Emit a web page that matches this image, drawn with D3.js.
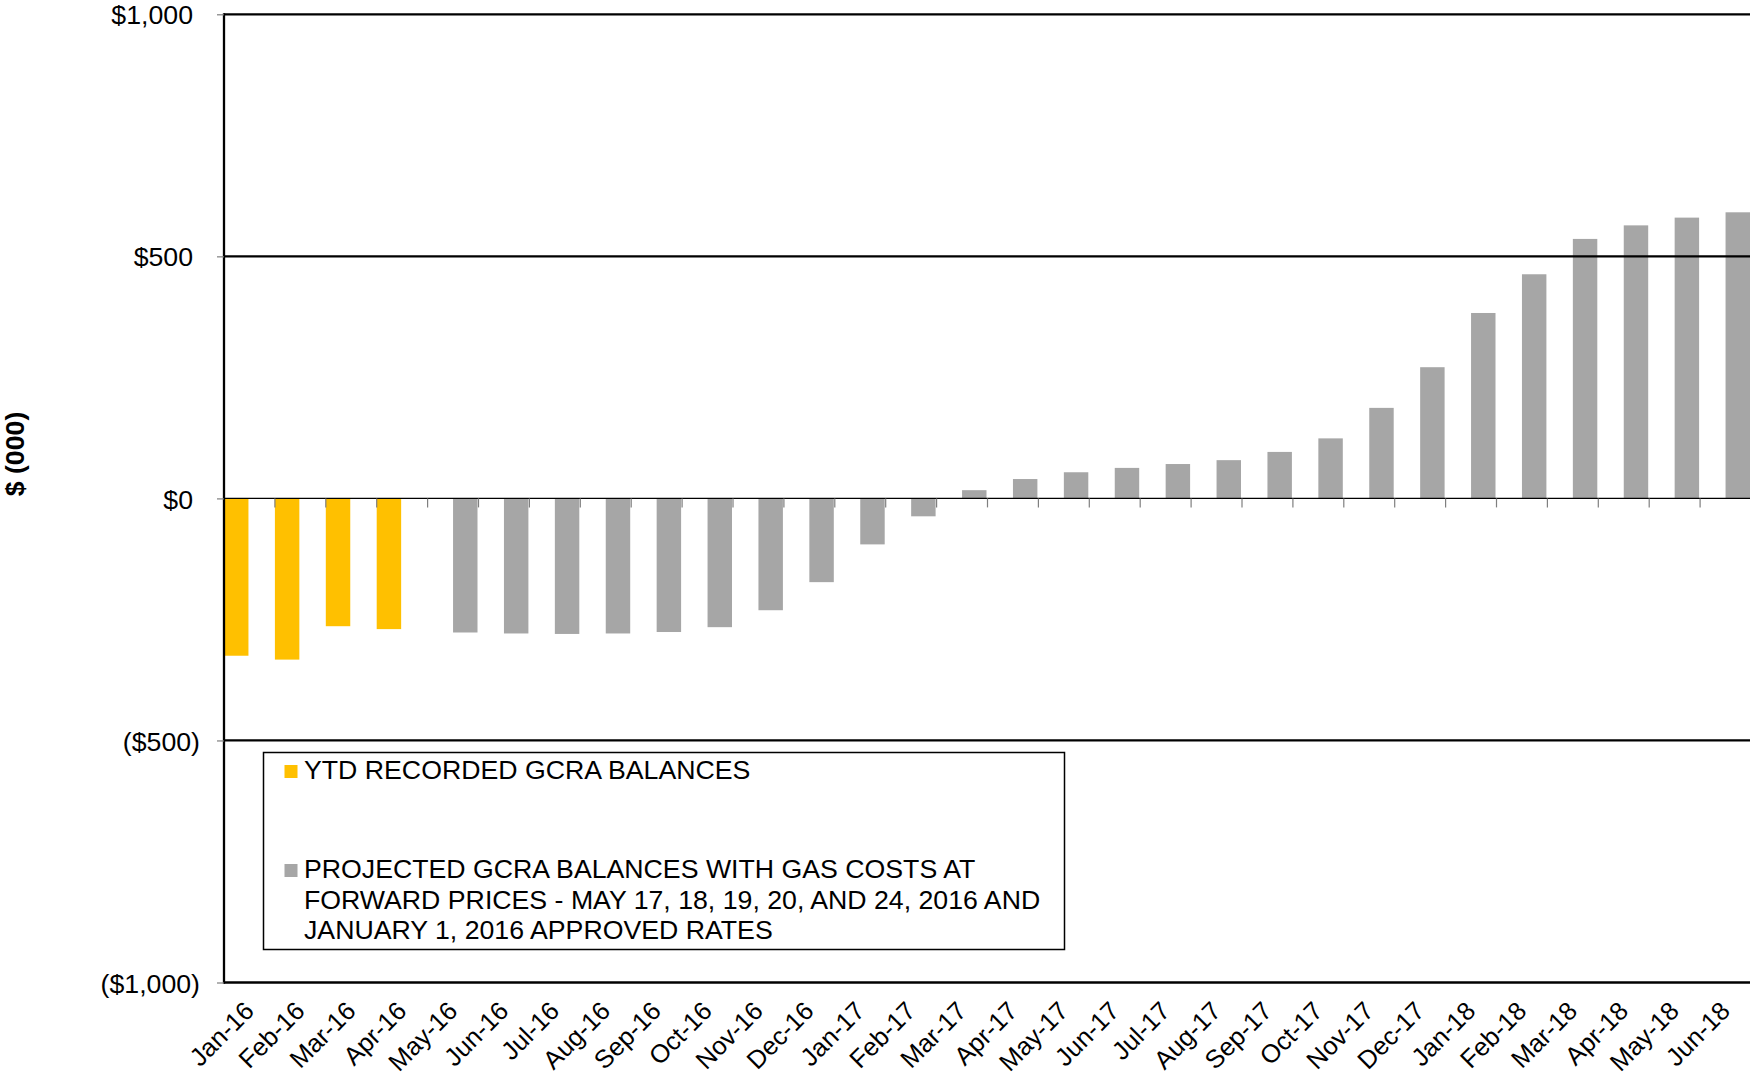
<!DOCTYPE html>
<html>
<head>
<meta charset="utf-8">
<script src="https://cdn.jsdelivr.net/npm/d3@7"></script>
<style>
  body { margin: 0; background: #fff; }
  svg { display: block; font-family: "Liberation Sans", Arial, sans-serif; }
</style>
</head>
<body>
<div id="wrapper"></div>
<script>
// Data
const months = ["Jan-16","Feb-16","Mar-16","Apr-16","May-16","Jun-16","Jul-16","Aug-16",
  "Sep-16","Oct-16","Nov-16","Dec-16","Jan-17","Feb-17","Mar-17","Apr-17","May-17",
  "Jun-17","Jul-17","Aug-17","Sep-17","Oct-17","Nov-17","Dec-17","Jan-18","Feb-18",
  "Mar-18","Apr-18","May-18","Jun-18"];

const ytdMonths = ["Jan-16","Feb-16","Mar-16","Apr-16"];
const ytdValues = [-325, -333, -264, -270];

const projMonths = months.slice(4);
const projValues = [-277, -279, -280, -279, -276, -266, -231, -173, -95, -37, 17, 40, 54,
  63, 71, 79, 96, 124, 187, 271, 383, 463, 536, 564, 580, 591];

const yTicks = [-1000, -500, 0, 500, 1000];
const seriesNames = ["ytd", "proj"];
const legendLabels = [
  ["YTD RECORDED GCRA BALANCES"],
  ["PROJECTED GCRA BALANCES WITH GAS COSTS AT",
   "FORWARD PRICES - MAY 17, 18, 19, 20, AND 24, 2016 AND",
   "JANUARY 1, 2016 APPROVED RATES"]
];

const colors = { ytd: "#FFC000", proj: "#A6A6A6" };

// Dimensions
const width = 1750;
const height = 1079;
const plot = { left: 224, right: 1751, top: 14.3, bottom: 982.5 };
const fontSize = 26.7;

const svg = d3.select("#wrapper")
  .append("svg")
    .attr("width", width)
    .attr("height", height);

// Scales
const xScale = d3.scaleBand()
  .domain(months)
  .range([plot.left, plot.right])
  .padding(0);

const xSub = d3.scaleBand()
  .domain(seriesNames)
  .range([0, xScale.bandwidth()])
  .padding(0);

const yScale = d3.scaleLinear()
  .domain([-1000, 1000])
  .range([plot.bottom, plot.top]);

const fmt = v => v < 0 ? `($${d3.format(",")(-v)})` : `$${d3.format(",")(v)}`;

// Bars
const ytdData = ytdMonths.map((m, i) => ({ m, v: ytdValues[i] }));
const projData = projMonths.map((m, i) => ({ m, v: projValues[i] }));

svg.append("g").selectAll("rect")
  .data(ytdData)
  .join("rect")
    .attr("x", d => xScale(d.m) + xSub("ytd"))
    .attr("width", xSub.bandwidth() - 1)
    .attr("y", d => yScale(Math.max(0, d.v)))
    .attr("height", d => Math.abs(yScale(d.v) - yScale(0)))
    .attr("fill", colors.ytd);

svg.append("g").selectAll("rect")
  .data(projData)
  .join("rect")
    .attr("x", d => xScale(d.m) + xSub("proj"))
    .attr("width", xSub.bandwidth() - 1)
    .attr("y", d => yScale(Math.max(0, d.v)))
    .attr("height", d => Math.abs(yScale(d.v) - yScale(0)))
    .attr("fill", colors.proj);

// Gridlines and frame
svg.append("g").selectAll("line")
  .data([1000, 500, -500, -1000])
  .join("line")
    .attr("x1", plot.left)
    .attr("x2", width)
    .attr("y1", d => yScale(d))
    .attr("y2", d => yScale(d))
    .attr("stroke", "#000")
    .attr("stroke-width", 2.3);

// zero line
svg.append("line")
  .attr("x1", plot.left)
  .attr("x2", width)
  .attr("y1", yScale(0))
  .attr("y2", yScale(0))
  .attr("stroke", "#000")
  .attr("stroke-width", 1.4);

// category ticks at band boundaries
svg.append("g").selectAll("line")
  .data(months.slice(1))
  .join("line")
    .attr("x1", d => xScale(d))
    .attr("x2", d => xScale(d))
    .attr("y1", yScale(0))
    .attr("y2", yScale(0) + 9)
    .attr("stroke", "#7f7f7f")
    .attr("stroke-width", 1.2);

// Y axis
const yAxis = svg.append("g")
  .attr("transform", `translate(${plot.left},0)`)
  .call(d3.axisLeft(yScale).tickValues(yTicks).tickSize(7).tickPadding(0).tickFormat(fmt));

yAxis.select(".domain")
  .attr("d", `M0,${plot.top - 1.15}V${plot.bottom + 1.15}`)
  .attr("stroke", "#000")
  .attr("stroke-width", 2.3);
yAxis.selectAll(".tick line").attr("stroke", "#7f7f7f").attr("stroke-width", 1.2);
yAxis.selectAll(".tick text")
  .attr("font-size", fontSize)
  .attr("font-family", "Liberation Sans, Arial, sans-serif")
  .attr("fill", "#000")
  .attr("dy", "0.36em")
  .attr("x", d => d < 0 ? -24 : -31);

// X axis labels
const xAxis = svg.append("g")
  .attr("transform", `translate(0,${plot.bottom})`)
  .call(d3.axisBottom(xScale).tickSize(0));

xAxis.select(".domain").remove();
xAxis.selectAll(".tick text")
  .attr("font-size", 25.5)
  .attr("font-family", "Liberation Sans, Arial, sans-serif")
  .attr("fill", "#000")
  .attr("text-anchor", "end")
  .attr("x", 0)
  .attr("y", 0)
  .attr("dy", 0)
  .attr("transform", "translate(6,30) rotate(-45)");

// Y axis title
svg.append("text")
  .attr("transform", "translate(24,454) rotate(-90)")
  .attr("text-anchor", "middle")
  .attr("font-size", fontSize)
  .attr("font-weight", "bold")
  .text("$ (000)");

// Legend
const legend = svg.append("g");
legend.append("rect")
  .attr("x", 263.5)
  .attr("y", 752.5)
  .attr("width", 801)
  .attr("height", 197)
  .attr("fill", "#fff")
  .attr("stroke", "#000")
  .attr("stroke-width", 1.5);

const legendRows = [
  { key: "ytd", y: 779, lines: legendLabels[0] },
  { key: "proj", y: 878, lines: legendLabels[1] }
];

legendRows.forEach(row => {
  legend.append("rect")
    .attr("x", 284.5)
    .attr("y", row.y - 14)
    .attr("width", 13)
    .attr("height", 13)
    .attr("fill", colors[row.key]);
  const t = legend.append("text")
    .attr("font-size", fontSize)
    .attr("fill", "#000");
  row.lines.forEach((line, i) => {
    t.append("tspan")
      .attr("x", 304)
      .attr("y", row.y + i * 30.7)
      .text(line);
  });
});
</script>
</body>
</html>
